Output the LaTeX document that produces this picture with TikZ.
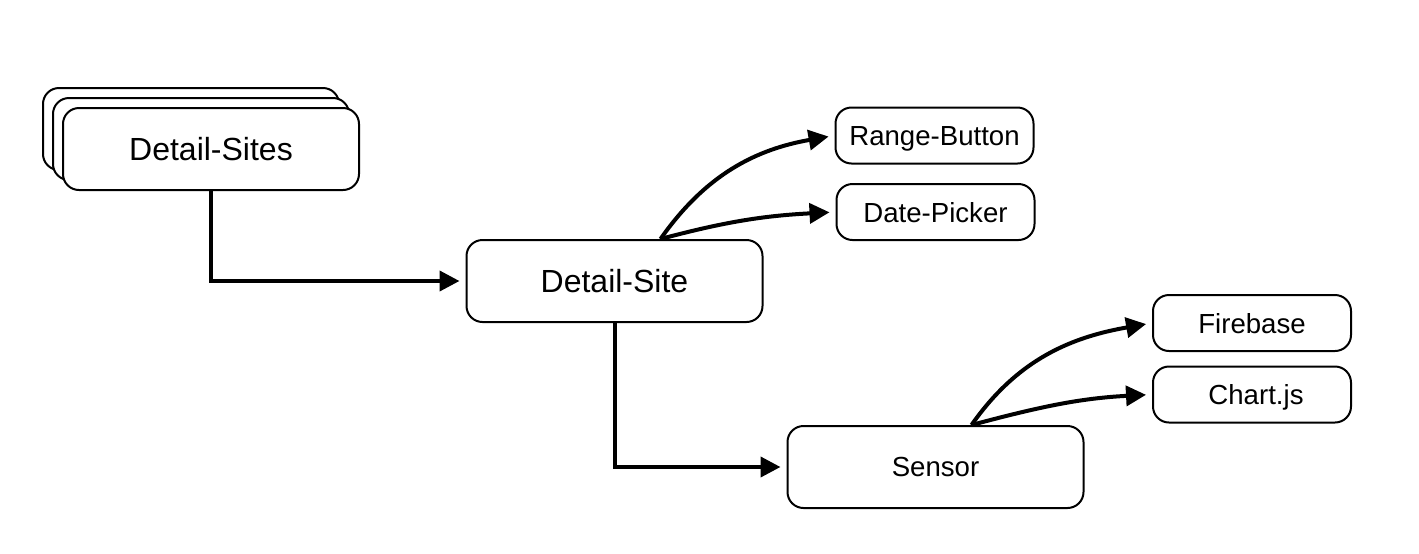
\documentclass[tikz,border=0pt]{standalone}
\usepackage{fontspec}
\setmainfont{Liberation Sans}
\usetikzlibrary{arrows.meta}

\begin{document}
\begin{tikzpicture}[x=0.5pt,y=-0.5pt,
    bigbox/.style={rectangle,draw,line width=1pt,rounded corners=8pt,fill=white,text depth=0pt,
        minimum width=148pt,minimum height=41pt,inner sep=0pt,font=\fontsize{16}{19}\selectfont},
    smallbox/.style={rectangle,draw,line width=1pt,rounded corners=8pt,fill=white,text depth=0pt,
        minimum width=99pt,minimum height=28pt,inner sep=0pt,font=\fontsize{13.8}{16}\selectfont},
    arr/.style={line width=2pt,shorten >=3pt,-{Triangle[length=10pt,width=10pt]}}]
    \useasboundingbox (0,0) rectangle (1419,553);

    \node[bigbox] (back) at (191,129) {};
    \node[bigbox] (mid) at (201,139) {};
    \node[bigbox] (sites) at (211,149) {Detail-Sites};
    \node[bigbox] (site) at (614.5,281) {Detail-Site};
    \node[smallbox] (range) at (934.5,135.5) {Range-Button};
    \node[smallbox] (date) at (935.5,212) {Date-Picker};
    \node[bigbox,font=\fontsize{13.8}{16}\selectfont] (sensor) at (935.5,467) {Sensor};
    \node[smallbox] (fire) at (1252,323) {Firebase};
    \node[smallbox] (chart) at (1252,394.5) {\hspace{4pt}Chart.js};

    \coordinate (siteout) at ([xshift=23pt]site.north);
    \coordinate (sensorout) at ([xshift=18pt]sensor.north);

    \draw[arr] (sites.south) |- (site.west);
    \draw[arr] (site.south) |- (sensor.west);
    \draw[arr] (siteout) to[out=55,in=190] (range.west);
    \draw[arr] (siteout) to[out=15,in=183] (date.west);
    \draw[arr] (sensorout) to[out=55,in=190] (fire.west);
    \draw[arr] (sensorout) to[out=15,in=183] (chart.west);
\end{tikzpicture}
\end{document}
